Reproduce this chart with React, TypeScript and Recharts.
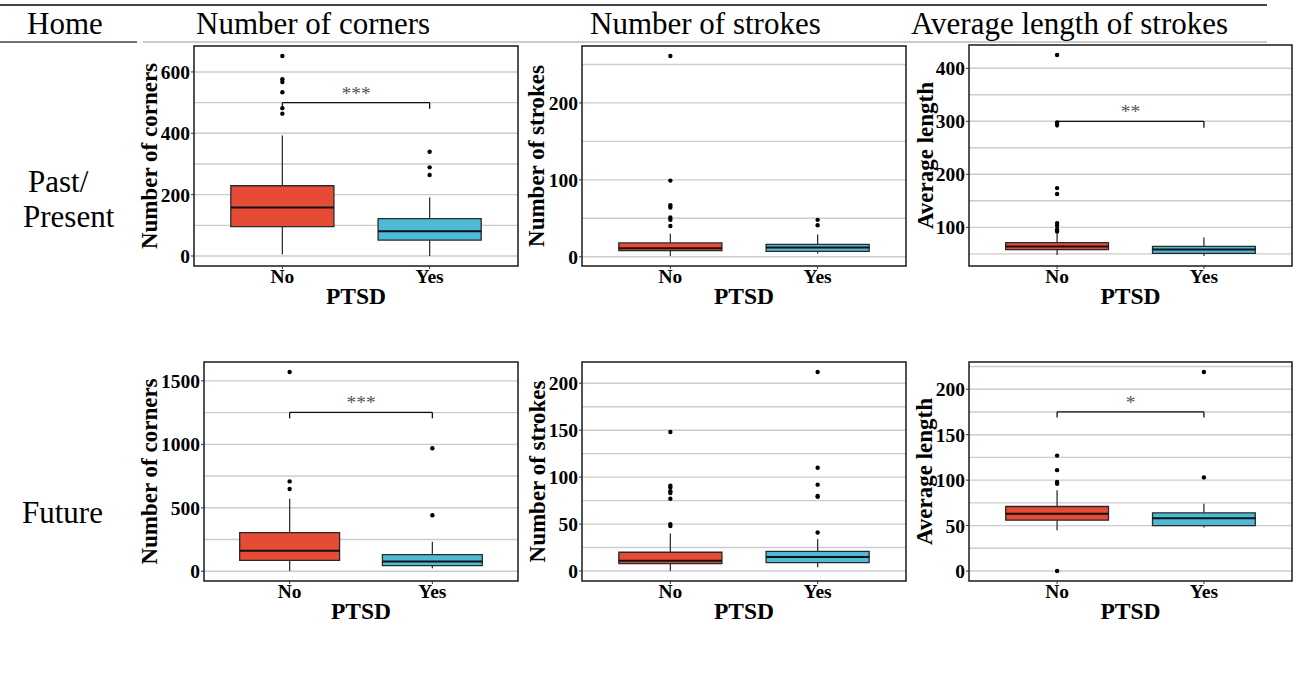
import React from 'react';
import {
  ComposedChart,
  XAxis,
  YAxis,
  CartesianGrid,
  Scatter,
  ReferenceArea,
  ReferenceLine,
  ReferenceDot,
} from 'recharts';

const serif = "'Liberation Serif', 'Times New Roman', Times, serif";

const groups = ['No', 'Yes'];
const boxColors = ['#E64B35', '#4DBBD5'];

// five-number summaries per group: [lower whisker, Q1, median, Q3, upper whisker]
const cornersPastStats = [[5, 96, 158, 229, 393], [0, 52, 81, 122, 191]];
const cornersPastOutliers = [[652, 576, 567, 534, 482, 464], [340, 289, 264]];
const strokesPastStats = [[1, 8, 11, 18, 30], [4, 7, 12, 16, 29]];
const strokesPastOutliers = [[261, 99, 67, 64, 51, 48, 40], [48, 41]];
const lengthPastStats = [[48, 58, 64, 71, 89], [46, 51, 58, 64, 81]];
const lengthPastOutliers = [[425, 298, 293, 174, 163, 108, 103, 96, 92], []];

const cornersFutureStats = [[2, 86, 162, 305, 572], [23, 45, 78, 131, 233]];
const cornersFutureOutliers = [[1570, 708, 648], [969, 441]];
const strokesFutureStats = [[0, 8, 11, 20, 40], [4, 9, 15, 21, 34]];
const strokesFutureOutliers = [[148, 91, 89, 85, 83, 77, 50, 48], [212, 110, 92, 80, 79, 41]];
const lengthFutureStats = [[45, 56, 63, 71, 89], [48, 50, 58, 64, 74]];
const lengthFutureOutliers = [[127, 111, 98, 96, 0], [219, 103]];

// y axis breaks (major carry labels, minor only grid)
const cornersPastTicks = [0, 200, 400, 600];
const cornersPastMinor = [100, 300, 500];
const strokesPastTicks = [0, 100, 200];
const strokesPastMinor = [50, 150, 250];
const lengthPastTicks = [100, 200, 300, 400];
const lengthPastMinor = [50, 150, 250, 350];
const cornersFutureTicks = [0, 500, 1000, 1500];
const cornersFutureMinor = [250, 750, 1250];
const strokesFutureTicks = [0, 50, 100, 150, 200];
const strokesFutureMinor = [25, 75, 125, 175];
const lengthFutureTicks = [0, 50, 100, 150, 200];
const lengthFutureMinor = [25, 75, 125, 175, 225];

// significance brackets: bar height, tip end, stars
const cornersPastSig = { y: 500, tip: 480, label: '***' };
const lengthPastSig = { y: 300, tip: 288, label: '**' };
const cornersFutureSig = { y: 1251, tip: 1205, label: '***' };
const lengthFutureSig = { y: 175, tip: 169, label: '*' };

const headers = ['Home', 'Number of corners', 'Number of strokes', 'Average length of strokes'];
const rowLabels = [['Past/', 'Present'], ['Future']];

type Sig = { y: number; tip: number; label: string };

const YTitle = (props: any) => {
  const { viewBox, text, dx } = props;
  const x = viewBox.x + dx;
  const y = viewBox.y + viewBox.height / 2;
  return (
    <text
      x={x}
      y={y}
      transform={`rotate(-90 ${x} ${y})`}
      textAnchor="middle"
      style={{ fontFamily: serif, fontWeight: 700, fontSize: 23, fill: '#000' }}
    >
      {text}
    </text>
  );
};

const XTitle = (props: any) => {
  const { viewBox, text } = props;
  return (
    <text
      x={viewBox.x + viewBox.width / 2}
      y={viewBox.y + 38}
      textAnchor="middle"
      style={{ fontFamily: serif, fontWeight: 700, fontSize: 23.5, fill: '#000' }}
    >
      {text}
    </text>
  );
};

const BoxPanel: React.FC<{
  title: string;
  stats: number[][];
  outliers: number[][];
  ticks: number[];
  minor: number[];
  sig?: Sig;
  plotLeft: number;
  plotTop: number;
  plotW: number;
  plotH: number;
  axisW: number;
  titleDx: number;
}> = ({ title, stats, outliers, ticks, minor, sig, plotLeft, plotTop, plotW, plotH, axisW, titleDx }) => {
  const vals = stats.flatMap((s) => [s[0], s[4]]).concat(outliers.flat());
  const lo = Math.min(...vals);
  const hi = Math.max(...vals);
  const pad = (hi - lo) * 0.05;
  const domain: [number, number] = [lo - pad, hi + pad];
  const points = outliers.flatMap((list, i) => list.map((v) => ({ x: i + 1, y: v })));
  const half = 0.35;

  return (
    <div style={{ position: 'absolute', left: plotLeft - axisW, top: plotTop - 4 }}>
      <ComposedChart
        width={axisW + plotW + 2}
        height={4 + plotH + 50}
        margin={{ top: 4, right: 2, left: 0, bottom: 0 }}
      >
        <CartesianGrid
          vertical={false}
          horizontalValues={[...ticks, ...minor]}
          stroke="#cccccc"
          strokeWidth={1.4}
        />
        <XAxis
          type="number"
          dataKey="x"
          domain={[0.4, 2.6]}
          ticks={[1, 2]}
          interval={0}
          allowDataOverflow
          tickFormatter={(v: number) => groups[v - 1] ?? ''}
          axisLine={false}
          tickSize={3}
          tickMargin={0}
          tickLine={{ stroke: '#333' }}
          height={50}
          tick={{ fill: '#000', fontSize: 19.5, fontWeight: 700, fontFamily: serif }}
          label={<XTitle text="PTSD" />}
        />
        <YAxis
          type="number"
          dataKey="y"
          domain={domain}
          ticks={ticks}
          interval={0}
          allowDataOverflow
          width={axisW}
          axisLine={false}
          tickSize={3}
          tickMargin={1}
          tickLine={{ stroke: '#333' }}
          tick={{ fill: '#000', fontSize: 19.5, fontWeight: 700, fontFamily: serif }}
          label={<YTitle text={title} dx={titleDx} />}
        />
        {stats.map((s, i) => (
          <ReferenceLine
            key={`wu${i}`}
            segment={[{ x: i + 1, y: s[3] }, { x: i + 1, y: s[4] }]}
            stroke="#333"
            strokeWidth={1.3}
          />
        ))}
        {stats.map((s, i) => (
          <ReferenceLine
            key={`wl${i}`}
            segment={[{ x: i + 1, y: s[0] }, { x: i + 1, y: s[1] }]}
            stroke="#333"
            strokeWidth={1.3}
          />
        ))}
        {stats.map((s, i) => (
          <ReferenceArea
            key={`box${i}`}
            x1={i + 1 - half}
            x2={i + 1 + half}
            y1={s[1]}
            y2={s[3]}
            fill={boxColors[i]}
            fillOpacity={1}
            stroke="#2a2a2a"
            strokeWidth={1.3}
          />
        ))}
        {stats.map((s, i) => (
          <ReferenceLine
            key={`med${i}`}
            segment={[{ x: i + 1 - half, y: s[2] }, { x: i + 1 + half, y: s[2] }]}
            stroke="#111"
            strokeWidth={2}
          />
        ))}
        <Scatter
          data={points}
          dataKey="y"
          isAnimationActive={false}
          shape={(p: any) => <circle cx={p.cx} cy={p.cy} r={2.2} fill="#000" />}
        />
        {sig && (
          <ReferenceLine
            segment={[{ x: 1, y: sig.y }, { x: 2, y: sig.y }]}
            stroke="#111"
            strokeWidth={1.3}
          />
        )}
        {sig && (
          <ReferenceLine
            segment={[{ x: 1, y: sig.tip }, { x: 1, y: sig.y }]}
            stroke="#111"
            strokeWidth={1.3}
          />
        )}
        {sig && (
          <ReferenceLine
            segment={[{ x: 2, y: sig.tip }, { x: 2, y: sig.y }]}
            stroke="#111"
            strokeWidth={1.3}
          />
        )}
        {sig && (
          <ReferenceDot
            x={1.5}
            y={sig.y}
            r={0}
            shape={(p: any) => (
              <text
                x={p.cx}
                y={p.cy - 3}
                textAnchor="middle"
                style={{ fontFamily: serif, fontSize: 19.5, fill: '#555' }}
              >
                {sig.label}
              </text>
            )}
          />
        )}
        <ReferenceArea
          x1={0.4}
          x2={2.6}
          y1={domain[0]}
          y2={domain[1]}
          fill="none"
          stroke="#1a1a1a"
          strokeWidth={1.5}
        />
      </ComposedChart>
    </div>
  );
};

const App: React.FC = () => {
  const headStyle = { fontFamily: serif, fontSize: 31, fill: '#000' };
  return (
    <div style={{ position: 'absolute', left: 0, top: 0, width: 1294, height: 673, background: '#fff' }}>
      <svg width={1294} height={673} style={{ position: 'absolute', left: 0, top: 0 }}>
        <line x1={0} x2={1267} y1={5} y2={5} stroke="#444" strokeWidth={2} />
        <line x1={0} x2={137} y1={42} y2={42} stroke="#444" strokeWidth={1.6} />
        <line x1={143} x2={1267} y1={42} y2={42} stroke="#999" strokeWidth={1} />
        <text x={27} y={34} style={headStyle}>{headers[0]}</text>
        <text x={196} y={34} style={headStyle}>{headers[1]}</text>
        <text x={590} y={34} style={headStyle}>{headers[2]}</text>
        <text x={911} y={34} style={headStyle}>{headers[3]}</text>
        <text x={28} y={192} style={headStyle}>{rowLabels[0][0]}</text>
        <text x={23} y={227} style={headStyle}>{rowLabels[0][1]}</text>
        <text x={22} y={523} style={headStyle}>{rowLabels[1][0]}</text>
      </svg>

      <BoxPanel title="Number of corners" stats={cornersPastStats} outliers={cornersPastOutliers}
        ticks={cornersPastTicks} minor={cornersPastMinor} sig={cornersPastSig}
        plotLeft={194} plotTop={46} plotW={324} plotH={220} axisW={64} titleDx={27} />
      <BoxPanel title="Number of strokes" stats={strokesPastStats} outliers={strokesPastOutliers}
        ticks={strokesPastTicks} minor={strokesPastMinor}
        plotLeft={582} plotTop={46} plotW={324} plotH={220} axisW={62} titleDx={24} />
      <BoxPanel title="Average length" stats={lengthPastStats} outliers={lengthPastOutliers}
        ticks={lengthPastTicks} minor={lengthPastMinor} sig={lengthPastSig}
        plotLeft={969} plotTop={45} plotW={323} plotH={221} axisW={64} titleDx={28} />

      <BoxPanel title="Number of corners" stats={cornersFutureStats} outliers={cornersFutureOutliers}
        ticks={cornersFutureTicks} minor={cornersFutureMinor} sig={cornersFutureSig}
        plotLeft={204} plotTop={362} plotW={314} plotH={219} axisW={74} titleDx={27} />
      <BoxPanel title="Number of strokes" stats={strokesFutureStats} outliers={strokesFutureOutliers}
        ticks={strokesFutureTicks} minor={strokesFutureMinor}
        plotLeft={582} plotTop={362} plotW={324} plotH={219} axisW={62} titleDx={25} />
      <BoxPanel title="Average length" stats={lengthFutureStats} outliers={lengthFutureOutliers}
        ticks={lengthFutureTicks} minor={lengthFutureMinor} sig={lengthFutureSig}
        plotLeft={969} plotTop={362} plotW={323} plotH={219} axisW={64} titleDx={27} />
    </div>
  );
};

export default App;
